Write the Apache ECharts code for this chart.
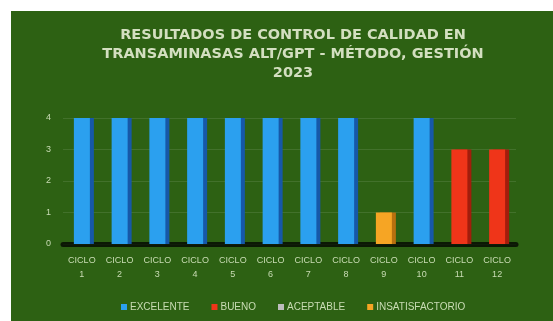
<!DOCTYPE html>
<html>
<head>
<meta charset="utf-8">
<script src="https://cdn.jsdelivr.net/npm/echarts@6/dist/echarts.min.js"></script>
<style>
html,body{margin:0;padding:0;background:#ffffff;}
#chart{width:553px;height:321px;}
</style>
</head>
<body>
<div id="chart"></div>
<script>
const categories = ['CICLO\n1','CICLO\n2','CICLO\n3','CICLO\n4','CICLO\n5','CICLO\n6','CICLO\n7','CICLO\n8','CICLO\n9','CICLO\n10','CICLO\n11','CICLO\n12'];
const excelente = [4,4,4,4,4,4,4,4,null,4,null,null];
const bueno = [null,null,null,null,null,null,null,null,null,null,3,3];
const aceptable = [null,null,null,null,null,null,null,null,null,null,null,null];
const insatisfactorio = [null,null,null,null,null,null,null,null,1,null,null,null];
const yTicks = [0,1,2,3,4];
const titleText = 'RESULTADOS DE CONTROL DE CALIDAD EN\nTRANSAMINASAS ALT/GPT - MÉTODO, GESTIÓN\n2023';

const chart = echarts.init(document.getElementById('chart'), null, {renderer:'canvas'});
function bar(name, data, color, side){
  return {
    name: name, type:'bar', stack:'all', data:data, barWidth:16,
    itemStyle:{color:color, shadowColor:side, shadowBlur:0, shadowOffsetX:4, shadowOffsetY:0},
    emphasis:{disabled:true}
  };
}
chart.setOption({
  animation:false,
  graphic:[{type:'rect', shape:{x:11,y:11,width:542,height:310}, style:{fill:'#2d6113'}, z:-10, silent:true}],
  title:{
    text:titleText, left:288, top:21, textAlign:'center',
    textStyle:{fontFamily:'DejaVu Sans', fontWeight:'bold', fontSize:14.5, color:'#d3dfc0', lineHeight:19}
  },
  legend:{
    data:['EXCELENTE','BUENO','ACEPTABLE','INSATISFACTORIO'],
    left:116, top:297, itemWidth:6, itemHeight:6, itemGap:22,
    icon:'rect',
    textStyle:{fontFamily:'Liberation Sans', fontSize:10, color:'#c9dcb4', padding:[0,0,0,-2]}
  },
  grid:{left:63, right:37, top:118, bottom:77},
  xAxis:{
    type:'category', data:categories,
    axisLine:{show:true, lineStyle:{color:'rgba(0,0,0,0.75)', width:5}},
    axisTick:{show:false},
    axisLabel:{fontFamily:'Liberation Sans', fontSize:9, color:'#c9dcb4', lineHeight:14, margin:10}
  },
  yAxis:{
    type:'value', min:0, max:4, interval:1,
    axisLabel:{fontFamily:'Liberation Sans', fontSize:9, color:'#c9dcb4', margin:12,
      formatter:function(v){return yTicks.indexOf(v)>=0 ? String(v) : '';}},
    splitLine:{lineStyle:{color:'rgba(255,255,255,0.1)', width:1}},
    axisLine:{show:false}, axisTick:{show:false}
  },
  series:[
    bar('EXCELENTE', excelente, '#2ba0ef', '#1658a8'),
    bar('BUENO', bueno, '#ef3519', '#a21d0c'),
    bar('ACEPTABLE', aceptable, '#bdbdbd', '#888888'),
    bar('INSATISFACTORIO', insatisfactorio, '#f6a524', '#b8700f')
  ]
});
</script>
</body>
</html>
